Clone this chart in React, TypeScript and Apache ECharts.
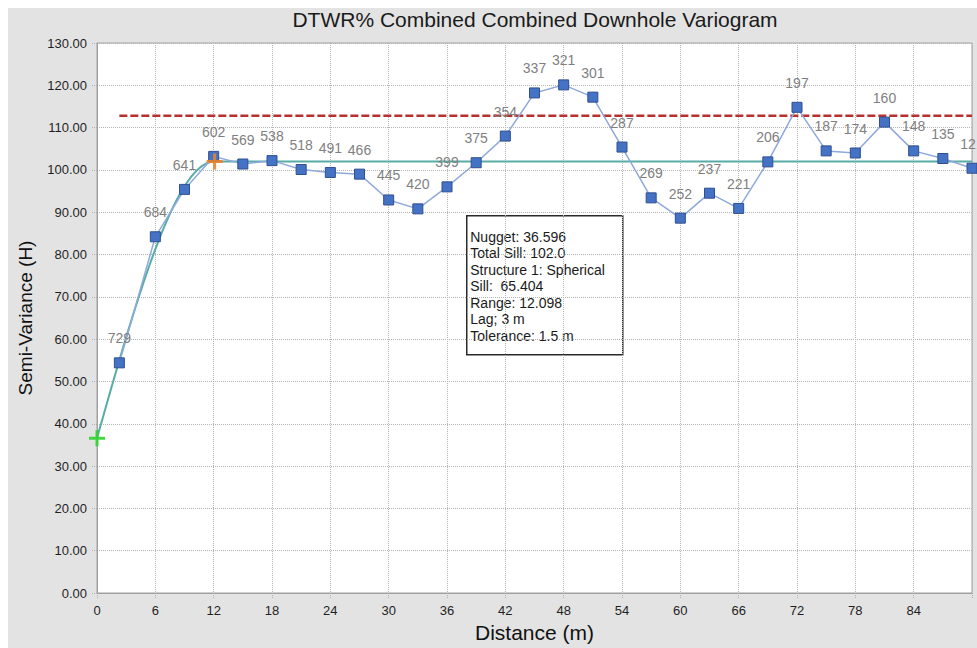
import React, { useEffect, useRef } from "react";
import * as echarts from "echarts";

// ---- Data ----
const lagDistances = [2.3, 6, 9, 12, 15, 18, 21, 24, 27, 30, 33, 36, 39, 42, 45, 48, 51, 54, 57, 60, 63, 66, 69, 72, 75, 78, 81, 84, 87, 90];
const semiVariance = [54.4, 84.2, 95.4, 103.2, 101.4, 102.2, 100.1, 99.4, 99.0, 92.9, 90.8, 96.0, 101.7, 108.0, 118.2, 120.1, 117.2, 105.4, 93.4, 88.6, 94.5, 90.9, 101.9, 114.8, 104.5, 104.0, 111.3, 104.5, 102.7, 100.4];
const pairCounts = [729, 684, 641, 602, 569, 538, 518, 491, 466, 445, 420, 399, 375, 354, 337, 321, 301, 287, 269, 252, 237, 221, 206, 197, 187, 174, 160, 148, 135, 121];

// Model parameters (stated in the chart's text box)
const NUGGET = 36.596;
const STRUCTURE_SILL = 65.404;
const TOTAL_SILL = 102.0;
const RANGE = 12.098;
const SAMPLE_VARIANCE = 112.8;

const infoLines = [
  "Nugget: 36.596",
  "Total Sill: 102.0",
  "Structure 1: Spherical",
  "Sill:  65.404",
  "Range: 12.098",
  "Lag; 3 m",
  "Tolerance: 1.5 m",
];

const X_MAX = 90;
const FONT = "'Liberation Sans', Arial, sans-serif";
const PLUS = "path://M6.5,0H9.5V6.5H16V9.5H9.5V16H6.5V9.5H0V6.5H6.5Z";

function sphericalModel(): number[][] {
  const pts: number[][] = [];
  for (let i = 0; i <= 120; i++) {
    const h = (RANGE * i) / 120;
    const r = h / RANGE;
    pts.push([h, NUGGET + STRUCTURE_SILL * (1.5 * r - 0.5 * r * r * r)]);
  }
  pts.push([X_MAX, TOTAL_SILL]);
  return pts;
}

export default function App() {
  const ref = useRef<HTMLDivElement>(null);

  useEffect(() => {
    if (!ref.current) return;
    const chart = echarts.init(ref.current, undefined, { renderer: "svg" });
    const points = lagDistances.map((x, i) => [x, semiVariance[i]]);

    chart.setOption({
      animation: false,
      backgroundColor: "#e3e3e3",
      textStyle: { fontFamily: FONT },
      title: {
        text: "DTWR% Combined Combined Downhole Variogram",
        left: 527,
        top: 1,
        padding: 0,
        textAlign: "center",
        textStyle: { fontFamily: FONT, fontSize: 21, fontWeight: "normal", color: "#1a1a1a" },
      },
      grid: {
        left: 89,
        top: 35,
        right: 5,
        bottom: 55,
        show: true,
        backgroundColor: "#ffffff",
        borderColor: "#a0a0a0",
        borderWidth: 1,
      },
      xAxis: {
        type: "value",
        min: 0,
        max: X_MAX,
        interval: 6,
        name: "Distance (m)",
        nameLocation: "middle",
        nameGap: 26,
        nameTextStyle: { fontFamily: FONT, fontSize: 21, color: "#111" },
        axisLine: { show: true, lineStyle: { color: "#a0a0a0" } },
        axisTick: { show: true, length: 6, lineStyle: { color: "#b0b0b0", type: "dotted" } },
        axisLabel: {
          margin: 11,
          fontSize: 13,
          color: "#1f1f1f",
          fontFamily: FONT,
          formatter: (v: number) => (v >= X_MAX ? "" : String(v)),
        },
        splitLine: { show: true, lineStyle: { color: "#b4b4b4", type: "dotted", width: 1 } },
      },
      yAxis: {
        type: "value",
        min: 0,
        max: 130,
        interval: 10,
        name: "Semi-Variance (H)",
        nameLocation: "middle",
        nameGap: 62,
        nameRotate: 90,
        nameTextStyle: { fontFamily: FONT, fontSize: 19, color: "#111" },
        axisLine: { show: true, lineStyle: { color: "#a0a0a0" } },
        axisTick: { show: true, length: 5, lineStyle: { color: "#b0b0b0", type: "dotted" } },
        axisLabel: {
          margin: 10,
          fontSize: 13,
          color: "#1f1f1f",
          fontFamily: FONT,
          formatter: (v: number) => v.toFixed(2),
        },
        splitLine: { show: true, lineStyle: { color: "#b4b4b4", type: "dotted", width: 1 } },
      },
      series: [
        {
          name: "Sample variance",
          type: "line",
          data: [
            [lagDistances[0], SAMPLE_VARIANCE],
            [X_MAX, SAMPLE_VARIANCE],
          ],
          symbol: "none",
          lineStyle: { color: "#b5302e", width: 2.5, type: [8, 3] },
          z: 1,
        },
        {
          name: "Model",
          type: "line",
          data: sphericalModel(),
          symbol: "none",
          lineStyle: { color: "#58aca6", width: 2 },
          z: 2,
        },
        {
          name: "Experimental",
          type: "line",
          data: points,
          symbol: "rect",
          symbolSize: 10,
          itemStyle: { color: "#4472c4", borderColor: "#2f4f8f", borderWidth: 1 },
          lineStyle: { color: "#8fa9dc", width: 1.5 },
          label: {
            show: true,
            position: "top",
            distance: 12,
            fontSize: 14,
            fontFamily: FONT,
            color: "#7f7f7f",
            formatter: (p: any) => String(pairCounts[p.dataIndex]),
          },
          z: 3,
        },
        {
          name: "Nugget",
          type: "scatter",
          data: [[0, NUGGET]],
          symbol: PLUS,
          symbolSize: 16,
          itemStyle: { color: "#2fd32f", opacity: 0.9 },
          clip: false,
          z: 5,
        },
        {
          name: "Range",
          type: "scatter",
          data: [[RANGE, TOTAL_SILL]],
          symbol: PLUS,
          symbolSize: 16,
          itemStyle: { color: "#e9822c", opacity: 0.9 },
          z: 5,
        },
      ],
      graphic: [
        {
          type: "group",
          left: 458,
          top: 207,
          children: [
            {
              type: "rect",
              shape: { x: 0, y: 0, width: 156, height: 139 },
              style: { fill: "#ffffff", stroke: "#2a2a2a", lineWidth: 1.5 },
            },
            {
              type: "text",
              x: 3.5,
              y: 12.5,
              style: {
                text: infoLines.join("\n"),
                fontFamily: FONT,
                fontSize: 14,
                lineHeight: 16.5,
                fill: "#1a1a1a",
                align: "left",
                verticalAlign: "top",
              },
            },
          ],
        },
      ],
    });

    return () => chart.dispose();
  }, []);

  return (
    <div
      ref={ref}
      style={{ position: "fixed", left: 8, top: 8, width: 969, height: 640 }}
    />
  );
}
